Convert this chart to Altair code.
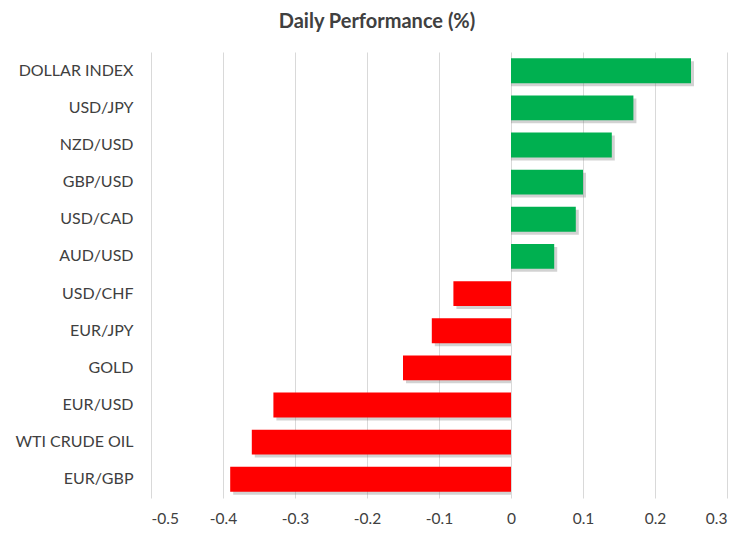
import altair as alt
import pandas as pd

categories = ["DOLLAR INDEX", "USD/JPY", "NZD/USD", "GBP/USD", "USD/CAD", "AUD/USD",
              "USD/CHF", "EUR/JPY", "GOLD", "EUR/USD", "WTI CRUDE OIL", "EUR/GBP"]
values = [0.25, 0.17, 0.14, 0.10, 0.09, 0.06, -0.08, -0.11, -0.15, -0.33, -0.36, -0.39]
tick_values = [-0.5, -0.4, -0.3, -0.2, -0.1, 0, 0.1, 0.2, 0.3]

df = pd.DataFrame({"cat": categories, "val": values})
df["sign"] = ["pos" if v >= 0 else "neg" for v in values]

FONT = "Lato"

x_enc = alt.X("val:Q", scale=alt.Scale(domain=[-0.5, 0.3], nice=False, zero=False),
              axis=alt.Axis(values=tick_values, title=None, domain=False, ticks=False,
                            labelFontSize=15.5, labelColor="#404040", labelFont=FONT,
                            labelPadding=13, gridColor="#d9d9d9", gridWidth=1,
                            labelExpr="datum.value == 0 ? '0' : replace(format(datum.value, '.1f'), '\u2212', '-')"))
y_enc = alt.Y("cat:N", sort=categories, scale=alt.Scale(paddingInner=0.33, paddingOuter=0.17),
              axis=alt.Axis(title=None, domain=False, ticks=False, grid=False,
                            labelFontSize=16, labelColor="#404040", labelFont=FONT,
                            labelPadding=18))

shadow = alt.Chart(df).mark_bar(color="#7f7f7f", opacity=0.35, xOffset=3, yOffset=3).encode(
    x=x_enc, x2=alt.datum(0), y=y_enc)

bars = alt.Chart(df).mark_bar().encode(
    x=x_enc, x2=alt.datum(0), y=y_enc,
    color=alt.Color("sign:N", scale=alt.Scale(domain=["pos", "neg"], range=["#00B050", "#FF0000"]),
                    legend=None))

chart = (shadow + bars).properties(
    width=576, height=446,
    title=alt.TitleParams("Daily Performance (%)", fontSize=20, font=FONT, fontWeight="bold",
                          color="#404040", anchor="middle", dx=-62, offset=20),
    autosize=alt.AutoSizeParams(type="none"),
    padding={"left": 143, "top": 44, "right": 18, "bottom": 33},
).configure_view(stroke=None)

chart.save("out.html", embed_options={"renderer": "svg", "actions": False})
